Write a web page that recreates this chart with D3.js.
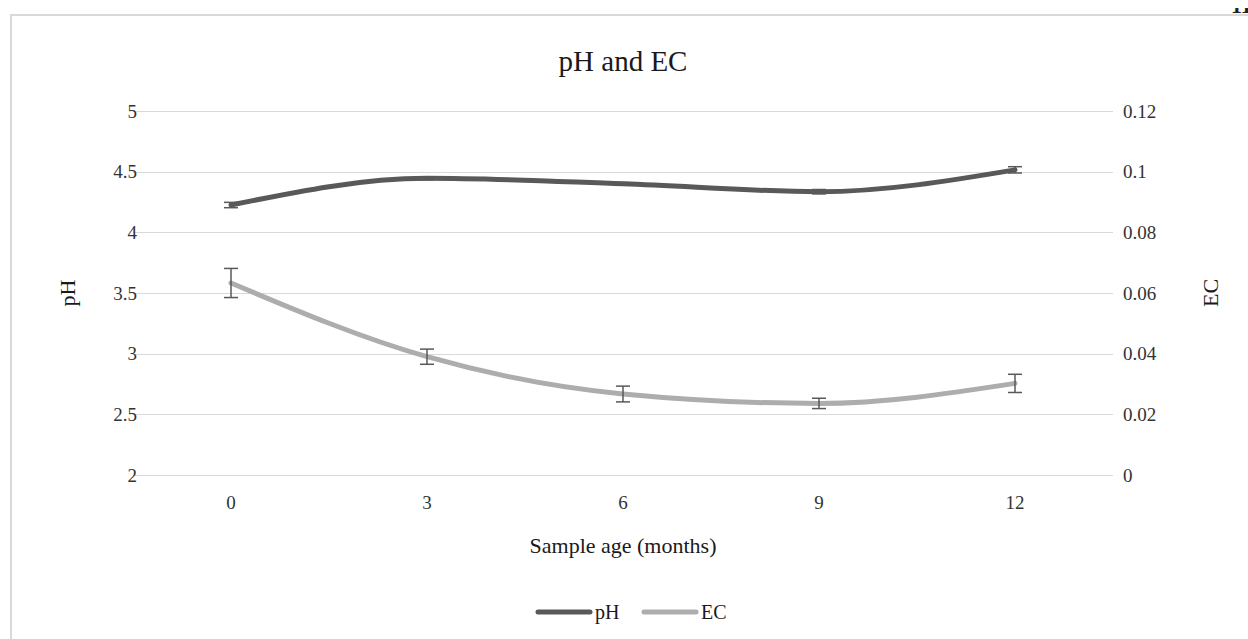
<!doctype html>
<html>
<head>
<style>
  body { margin: 0; background: #fff; }
  svg text { font-family: "Liberation Serif", "Times New Roman", serif; }
</style>
<script src="https://d3js.org/d3.v7.min.js"></script>
</head>
<body>
<svg width="1248" height="639"></svg>
<script>
// data
var months = ["0", "3", "6", "9", "12"];
var phValues = [4.225, 4.445, 4.40, 4.335, 4.515];
var phErrors = [0.022, 0.012, 0.010, 0.018, 0.026];
var ecValues = [0.0633, 0.0390, 0.0267, 0.0236, 0.0302];
var ecErrors = [0.0048, 0.0025, 0.0026, 0.0017, 0.0030];
var phTicks = [2, 2.5, 3, 3.5, 4, 4.5, 5];
var ecTicks = [0, 0.02, 0.04, 0.06, 0.08, 0.1, 0.12];

var svg = d3.select("svg");

// page number peeking at the top edge
svg.append("clipPath").attr("id", "pageclip")
    .append("rect").attr("x", 1200).attr("y", 8).attr("width", 48).attr("height", 6);
svg.append("text")
    .attr("x", 1231).attr("y", 13)
    .attr("clip-path", "url(#pageclip)")
    .attr("font-size", "22px").attr("font-weight", "bold")
    .attr("fill", "#222")
    .text("11");

// chart border
svg.append("rect")
    .attr("x", 11).attr("y", 15)
    .attr("width", 1260).attr("height", 660)
    .attr("fill", "none")
    .attr("stroke", "#d9d9d9").attr("stroke-width", 2);

var plotLeft = 133, plotRight = 1113, plotTop = 111, plotBottom = 475;

var x = d3.scaleBand().domain(months).range([plotLeft, plotRight]);
var yPh = d3.scaleLinear().domain([2, 5]).range([plotBottom, plotTop]);
var yEc = d3.scaleLinear().domain([0, 0.12]).range([plotBottom, plotTop]);
var cx = function(d) { return x(d) + x.bandwidth() / 2; };

// gridlines
svg.append("g").selectAll("line")
    .data(phTicks).enter().append("line")
    .attr("x1", plotLeft).attr("x2", plotRight)
    .attr("y1", function(d) { return Math.round(yPh(d)) + 0.5; })
    .attr("y2", function(d) { return Math.round(yPh(d)) + 0.5; })
    .attr("stroke", "#d9d9d9").attr("stroke-width", 1);

function styleAxis(g) {
    g.select(".domain").remove();
    g.attr("font-family", null).attr("font-size", null);
    g.selectAll("text")
        .style("font-family", "'Liberation Serif', serif")
        .style("font-size", "19px")
        .attr("fill", "#333");
}

// left axis
svg.append("g")
    .attr("transform", "translate(" + (plotLeft + 4) + ",0)")
    .call(d3.axisLeft(yPh).tickValues(phTicks).tickSize(0).tickPadding(0)
        .tickFormat(function(d) { return String(d); }))
    .call(styleAxis);

// right axis
svg.append("g")
    .attr("transform", "translate(" + (plotRight + 10) + ",0)")
    .call(d3.axisRight(yEc).tickValues(ecTicks).tickSize(0).tickPadding(0)
        .tickFormat(function(d) { return String(d); }))
    .call(styleAxis);

// bottom axis
svg.append("g")
    .attr("transform", "translate(0," + (plotBottom + 20) + ")")
    .call(d3.axisBottom(x).tickSize(0).tickPadding(0))
    .call(styleAxis);

// titles
svg.append("text")
    .attr("x", 623).attr("y", 71)
    .attr("text-anchor", "middle")
    .attr("font-size", "29px").attr("fill", "#1a1a1a")
    .text("pH and EC");

svg.append("text")
    .attr("x", 623).attr("y", 553)
    .attr("text-anchor", "middle")
    .attr("font-size", "22px").attr("fill", "#1a1a1a")
    .text("Sample age (months)");

svg.append("text")
    .attr("transform", "translate(75,293) rotate(-90)")
    .attr("text-anchor", "middle")
    .attr("font-size", "22px").attr("fill", "#1a1a1a")
    .text("pH");

svg.append("text")
    .attr("transform", "translate(1218,293) rotate(-90)")
    .attr("text-anchor", "middle")
    .attr("font-size", "22px").attr("fill", "#1a1a1a")
    .text("EC");

// series
var series = [
    { name: "pH", values: phValues, errors: phErrors, scale: yPh, color: "#595959" },
    { name: "EC", values: ecValues, errors: ecErrors, scale: yEc, color: "#adadad" }
];

series.forEach(function(s) {
    var line = d3.line()
        .x(function(d, i) { return cx(months[i]); })
        .y(function(d) { return s.scale(d); })
        .curve(d3.curveMonotoneX);

    svg.append("path")
        .datum(s.values)
        .attr("d", line)
        .attr("fill", "none")
        .attr("stroke", s.color)
        .attr("stroke-width", 5)
        .attr("stroke-linecap", "round");
});

// error bars
series.forEach(function(s) {
    var g = svg.append("g").attr("stroke", "#595959").attr("stroke-width", 1.5);
    s.values.forEach(function(v, i) {
        var px = cx(months[i]);
        var y1 = s.scale(v + s.errors[i]), y2 = s.scale(v - s.errors[i]);
        g.append("line").attr("x1", px).attr("x2", px).attr("y1", y1).attr("y2", y2);
        g.append("line").attr("x1", px - 7).attr("x2", px + 7).attr("y1", y1).attr("y2", y1);
        g.append("line").attr("x1", px - 7).attr("x2", px + 7).attr("y1", y2).attr("y2", y2);
    });
});

// legend
var legend = svg.append("g").attr("transform", "translate(538,612)");
var item = legend.selectAll("g").data(series).enter().append("g")
    .attr("transform", function(d, i) { return "translate(" + (i * 106) + ",0)"; });
item.append("line")
    .attr("x1", 0).attr("x2", 52).attr("y1", 0).attr("y2", 0)
    .attr("stroke", function(d) { return d.color; })
    .attr("stroke-width", 5).attr("stroke-linecap", "round");
item.append("text")
    .attr("x", 57).attr("y", 7)
    .attr("font-size", "20px").attr("fill", "#1a1a1a")
    .text(function(d) { return d.name; });
</script>
</body>
</html>
